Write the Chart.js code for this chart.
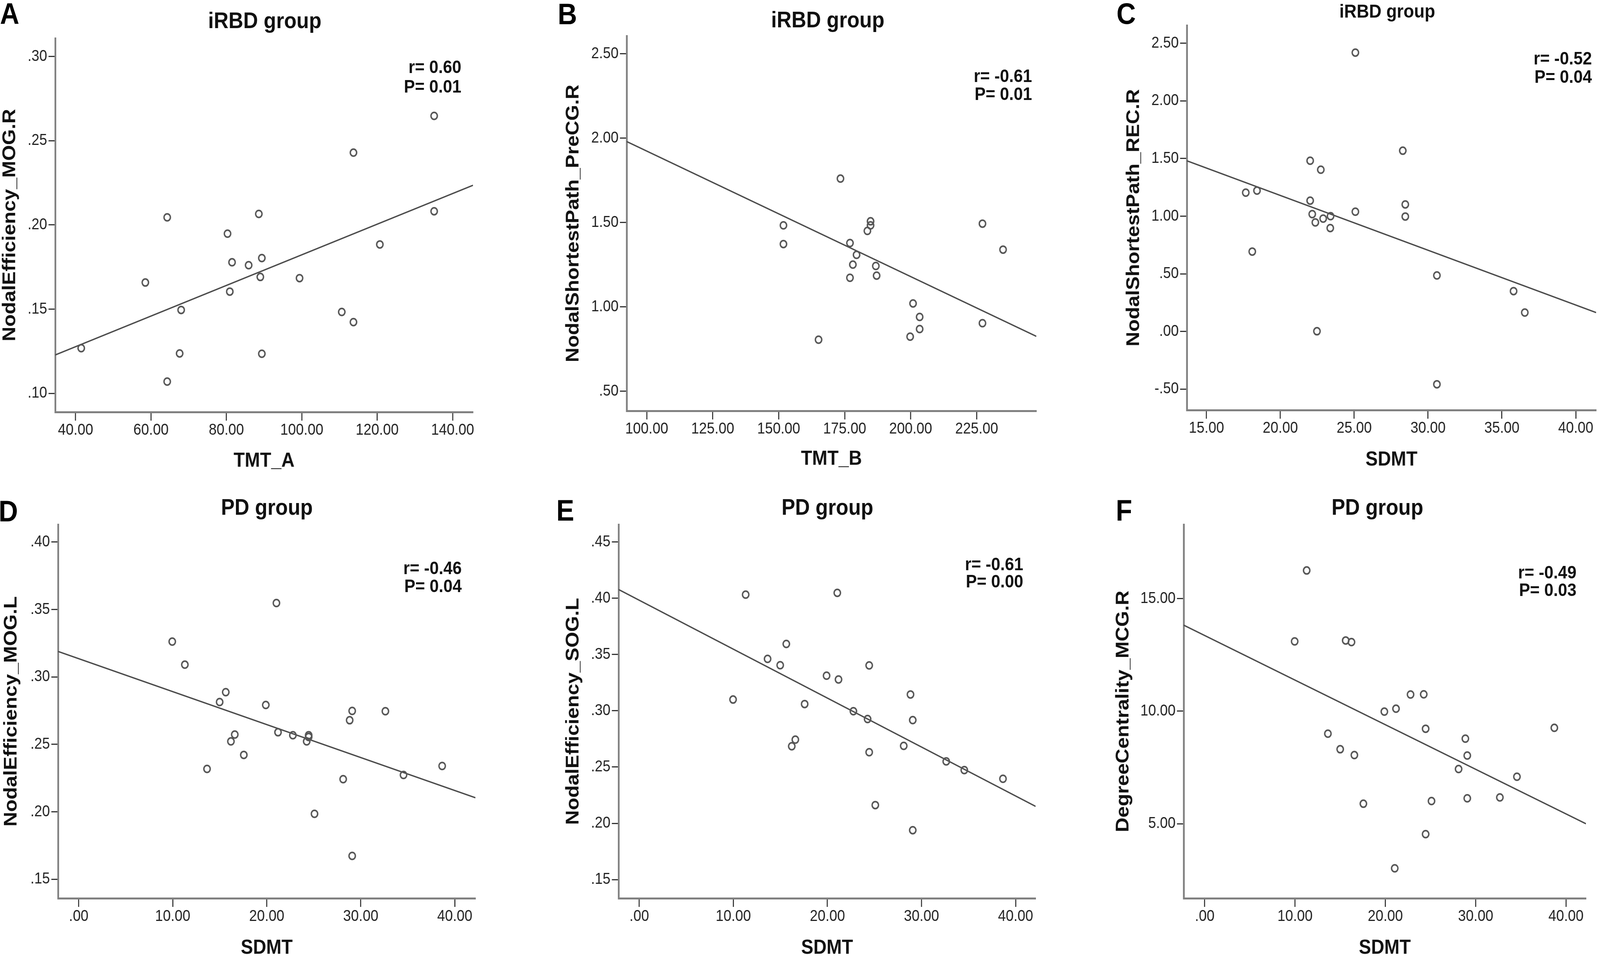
<!DOCTYPE html>
<html lang="en">
<head>
<meta charset="UTF-8">
<title>Nodal metrics vs cognitive scores</title>
<script src="https://cdn.jsdelivr.net/npm/chart.js"></script>
<style>
    html, body {
        margin: 0;
        padding: 0;
        background: #fff;
        overflow: hidden;
        font-family: "Liberation Sans", Arial, sans-serif;
    }
    #stage {
        position: relative;
        overflow: hidden;
        background: #fff;
    }
    .figure {
        position: absolute;
        left: 0;
        top: 0;
        width: 4550px;
        height: 2458px;
        background: #fff;
        transform-origin: 0 0;
    }
    .box { position: absolute; }
    .letter {
        position: absolute;
        font-weight: bold;
        font-size: 76px;
        line-height: 76px;
        color: #000;
    }
    .group {
        position: absolute;
        font-weight: bold;
        white-space: nowrap;
        color: #111;
        transform: translateX(-50%);
    }
    .stat {
        position: absolute;
        font-weight: bold;
        font-size: 47px;
        text-align: right;
        white-space: pre;
        color: #111;
    }
</style>
</head>
<body>
<div id="stage"><div class="figure" id="figure"></div></div>
<script>
    // ---- data ----
    // A: TMT_A vs NodalEfficiency_MOG.R (iRBD)
    const xA = [41.5, 58.5, 64.3, 64.3, 68.0, 67.6, 80.3, 81.5, 80.9, 85.9, 88.6, 89.4, 89.0, 89.4, 99.4, 110.6, 113.7, 113.7, 120.7, 135.1, 135.1];
    const yA = [0.1268, 0.1658, 0.2045, 0.1070, 0.1495, 0.1237, 0.1948, 0.1778, 0.1604, 0.1761, 0.2065, 0.1803, 0.1691, 0.1235, 0.1684, 0.1483, 0.2429, 0.1423, 0.1884, 0.2647, 0.2081];
    const fitA = [[34.6, 0.1228], [145.4, 0.2235]];
    const xTicksA = [40, 60, 80, 100, 120, 140];
    const yTicksA = [0.10, 0.15, 0.20, 0.25, 0.30];
    const xRangeA = [34.6, 145.4];
    const yRangeA = [0.0889, 0.3108];

    // B: TMT_B vs NodalShortestPath_PreCG.R (iRBD)
    const xB = [173.4, 151.8, 151.8, 165.1, 177.0, 179.5, 178.1, 177.0, 184.8, 184.8, 183.6, 186.8, 187.1, 200.9, 203.4, 203.4, 199.8, 227.2, 227.2, 235.0];
    const yB = [1.760, 1.483, 1.372, 0.805, 1.378, 1.308, 1.250, 1.172, 1.507, 1.483, 1.450, 1.242, 1.185, 1.020, 0.940, 0.868, 0.823, 1.493, 0.903, 1.339];
    const fitB = [[92.4, 1.980], [247.6, 0.825]];
    const xTicksB = [100, 125, 150, 175, 200, 225];
    const yTicksB = [0.5, 1.0, 1.5, 2.0, 2.5];
    const xRangeB = [92.4, 247.6];
    const yRangeB = [0.383, 2.606];

    // C: SDMT vs NodalShortestPath_REC.R (iRBD)
    const xC = [25.08, 17.66, 18.42, 18.10, 22.02, 22.74, 22.02, 22.16, 22.37, 22.90, 23.40, 23.38, 25.08, 22.48, 28.29, 28.46, 28.46, 30.60, 30.60, 35.79, 36.55];
    const yC = [2.419, 1.204, 1.222, 0.693, 1.481, 1.403, 1.135, 1.018, 0.946, 0.979, 1.000, 0.897, 1.039, 0.002, 1.568, 1.102, 0.997, 0.486, -0.458, 0.350, 0.164];
    const fitC = [[13.67, 1.481], [41.38, 0.164]];
    const xTicksC = [15, 20, 25, 30, 35, 40];
    const yTicksC = [-0.5, 0, 0.5, 1.0, 1.5, 2.0, 2.5];
    const xRangeC = [13.67, 41.38];
    const yRangeC = [-0.682, 2.655];

    // D: SDMT vs NodalEfficiency_MOG.L (PD)
    const xD = [9.95, 11.29, 21.03, 15.64, 14.99, 19.90, 16.60, 16.19, 17.56, 13.65, 21.20, 22.78, 24.46, 24.46, 24.25, 28.82, 29.09, 32.62, 28.13, 25.08, 29.09, 34.55, 38.66];
    const yD = [0.3262, 0.3091, 0.3548, 0.2887, 0.2814, 0.2792, 0.2573, 0.2522, 0.2422, 0.2318, 0.2590, 0.2568, 0.2568, 0.2555, 0.2522, 0.2679, 0.2748, 0.2746, 0.2242, 0.1985, 0.1673, 0.2273, 0.2340];
    const fitD = [[-2.2, 0.3189], [42.2, 0.2104]];
    const xTicksD = [0, 10, 20, 30, 40];
    const yTicksD = [0.15, 0.20, 0.25, 0.30, 0.35, 0.40];
    const xRangeD = [-2.2, 42.2];
    const yRangeD = [0.1359, 0.413];

    // E: SDMT vs NodalEfficiency_SOG.L (PD)
    const xE = [11.31, 21.05, 9.97, 15.63, 13.64, 14.98, 19.91, 21.18, 24.44, 17.58, 22.76, 24.27, 16.59, 16.21, 24.44, 28.83, 29.07, 28.11, 32.63, 34.55, 38.66, 25.09, 29.07];
    const yE = [0.4032, 0.4048, 0.3100, 0.3594, 0.3461, 0.3405, 0.3312, 0.3278, 0.3403, 0.3060, 0.2996, 0.2927, 0.2744, 0.2685, 0.2632, 0.3145, 0.2917, 0.2688, 0.2550, 0.2473, 0.2396, 0.2162, 0.1939];
    const fitE = [[-2.2, 0.4078], [42.13, 0.2151]];
    const xTicksE = [0, 10, 20, 30, 40];
    const yTicksE = [0.15, 0.20, 0.25, 0.30, 0.35, 0.40, 0.45];
    const xRangeE = [-2.2, 42.13];
    const yRangeE = [0.1334, 0.4655];

    // F: SDMT vs DegreeCentrality_MCG.R (PD)
    const xF = [11.29, 9.96, 15.61, 16.25, 22.79, 24.25, 19.89, 21.18, 13.64, 15.00, 16.57, 24.46, 28.86, 29.07, 28.11, 34.57, 38.71, 17.57, 25.11, 29.07, 32.68, 24.46, 21.04];
    const yF = [16.25, 13.10, 13.14, 13.07, 10.74, 10.75, 9.98, 10.11, 9.00, 8.31, 8.05, 9.22, 8.78, 8.03, 7.43, 7.09, 9.26, 5.89, 6.01, 6.13, 6.17, 4.54, 3.02];
    const fitF = [[-2.33, 13.82], [42.21, 5.00]];
    const xTicksF = [0, 10, 20, 30, 40];
    const yTicksF = [5, 10, 15];
    const xRangeF = [-2.33, 42.21];
    const yRangeF = [1.69, 18.29];

    const letters = ['A', 'B', 'C', 'D', 'E', 'F'];
    const groups = ['iRBD group', 'iRBD group', 'iRBD group', 'PD group', 'PD group', 'PD group'];
    const xTitles = ['TMT_A', 'TMT_B', 'SDMT', 'SDMT', 'SDMT', 'SDMT'];
    const yTitles = ['NodalEfficiency_MOG.R', 'NodalShortestPath_PreCG.R', 'NodalShortestPath_REC.R',
                     'NodalEfficiency_MOG.L', 'NodalEfficiency_SOG.L', 'DegreeCentrality_MCG.R'];
    const rValues = ['0.60', '-0.61', '-0.52', '-0.46', '-0.61', '-0.49'];
    const pValues = ['0.01', '0.01', '0.04', '0.04', '0.00', '0.03'];

    // ---- layout (pixels in the 4550 x 2458 figure) ----
    const panels = [
        { x: xA, y: yA, fit: fitA, xt: xTicksA, yt: yTicksA, xr: xRangeA, yr: yRangeA,
          L: 157, T: 94, R: 1345, B: 1055, yTitleX: 29, xTitleY: 1181,
          titleX: 753, titleBase: 72, titleSize: 58, letterX: 0, letterBase: 61,
          statRight: 1312, statBase: 187, statGap: 50 },
        { x: xB, y: yB, fit: fitB, xt: xTicksB, yt: yTicksB, xr: xRangeB, yr: yRangeB,
          L: 1782, T: 88, R: 2947, B: 1052, yTitleX: 1631, xTitleY: 1176,
          titleX: 2354, titleBase: 70, titleSize: 58, letterX: 1586, letterBase: 62,
          statRight: 2935, statBase: 210, statGap: 46 },
        { x: xC, y: yC, fit: fitC, xt: xTicksC, yt: yTicksC, xr: xRangeC, yr: yRangeC,
          L: 3375, T: 61, R: 4539, B: 1050, yTitleX: 3225, xTitleY: 1178,
          titleX: 3945, titleBase: 45, titleSize: 49, letterX: 3175, letterBase: 61,
          statRight: 4527, statBase: 165, statGap: 47 },
        { x: xD, y: yD, fit: fitD, xt: xTicksD, yt: yTicksD, xr: xRangeD, yr: yRangeD,
          L: 165, T: 1339, R: 1352, B: 2300, yTitleX: 33, xTitleY: 2428,
          titleX: 759, titleBase: 1318, titleSize: 58, letterX: -4, letterBase: 1335,
          statRight: 1313, statBase: 1470, statGap: 46 },
        { x: xE, y: yE, fit: fitE, xt: xTicksE, yt: yTicksE, xr: xRangeE, yr: yRangeE,
          L: 1759, T: 1339, R: 2945, B: 2300, yTitleX: 1631, xTitleY: 2428,
          titleX: 2353, titleBase: 1318, titleSize: 58, letterX: 1582, letterBase: 1333,
          statRight: 2910, statBase: 1460, statGap: 44 },
        { x: xF, y: yF, fit: fitF, xt: xTicksF, yt: yTicksF, xr: xRangeF, yr: yRangeF,
          L: 3366, T: 1339, R: 4510, B: 2300, yTitleX: 3195, xTitleY: 2428,
          titleX: 3917, titleBase: 1318, titleSize: 58, letterX: 3173, letterBase: 1333,
          statRight: 4483, statBase: 1481, statGap: 45 }
    ];

    const FIG_W = 4550, FIG_H = 2458;
    const FONT = '"Liberation Sans", Arial, sans-serif';
    const stage = document.getElementById('stage');
    const figure = document.getElementById('figure');

    // stretch the 4550 x 2458 figure over the real viewport
    const viewW = document.documentElement.clientWidth || window.innerWidth || FIG_W;
    const viewH = document.documentElement.clientHeight || window.innerHeight || FIG_H;
    const sx = viewW / FIG_W;
    const sy = viewH / FIG_H;
    stage.style.width = viewW + 'px';
    stage.style.height = viewH + 'px';
    figure.style.transform = 'scale(' + sx + ',' + sy + ')';

    // SPSS style numbers: .30, -.50, 15.00
    const fmt = (v) => {
        const s = Math.abs(v).toFixed(2).replace(/^0\./, '.');
        return (v < 0 ? '-' : '') + s;
    };

    const addDiv = (cls, text, styles) => {
        const d = document.createElement('div');
        d.className = cls;
        d.textContent = text;
        Object.assign(d.style, styles);
        figure.appendChild(d);
        return d;
    };

    panels.forEach((p, i) => {
        const cl = Math.max(0, p.yTitleX - 30);
        const ct = p.T - 20;
        const cr = p.R + 20;
        const cb = p.xTitleY + 28;

        const box = document.createElement('div');
        box.className = 'box';
        Object.assign(box.style, {
            left: cl + 'px', top: ct + 'px',
            width: (cr - cl) + 'px', height: (cb - ct) + 'px'
        });
        const canvas = document.createElement('canvas');
        box.appendChild(canvas);
        figure.appendChild(box);

        new Chart(canvas, {
            type: 'scatter',
            data: {
                datasets: [
                    {
                        data: p.x.map((v, k) => ({ x: v, y: p.y[k] })),
                        pointRadius: 9,
                        pointHoverRadius: 9,
                        pointBorderWidth: 4,
                        borderColor: '#555',
                        backgroundColor: 'rgba(0,0,0,0)'
                    },
                    {
                        type: 'line',
                        data: p.fit.map(([fx, fy]) => ({ x: fx, y: fy })),
                        borderColor: '#4a4a4a',
                        borderWidth: 3.5,
                        pointRadius: 0,
                        fill: false,
                        tension: 0
                    }
                ]
            },
            options: {
                responsive: true,
                maintainAspectRatio: false,
                animation: false,
                devicePixelRatio: 1,
                layout: { padding: { top: 20, right: 20, left: 0, bottom: 0 } },
                plugins: { legend: { display: false }, tooltip: { enabled: false } },
                scales: {
                    x: {
                        type: 'linear',
                        min: p.xr[0],
                        max: p.xr[1],
                        afterFit: (s) => { s.height = cb - p.B; },
                        afterBuildTicks: (s) => { s.ticks = p.xt.map(v => ({ value: v })); },
                        grid: { drawOnChartArea: false, drawTicks: true, tickLength: 22, tickWidth: 3, tickColor: '#333' },
                        border: { display: true, color: '#808080', width: 5 },
                        ticks: {
                            callback: (v) => fmt(v),
                            padding: 4.5,
                            color: '#222',
                            maxRotation: 0,
                            autoSkip: false,
                            font: { size: 40, family: FONT, lineHeight: 1 }
                        },
                        title: {
                            display: true,
                            text: xTitles[i],
                            color: '#111',
                            padding: { top: 0, bottom: 2 },
                            font: { size: 52, weight: 'bold', family: FONT, lineHeight: 1 }
                        }
                    },
                    y: {
                        type: 'linear',
                        min: p.yr[0],
                        max: p.yr[1],
                        afterFit: (s) => { s.width = p.L - cl; },
                        afterBuildTicks: (s) => { s.ticks = p.yt.map(v => ({ value: v })); },
                        grid: { drawOnChartArea: false, drawTicks: true, tickLength: 19, tickWidth: 3, tickColor: '#333' },
                        border: { display: true, color: '#808080', width: 5 },
                        ticks: {
                            callback: (v) => fmt(v),
                            padding: 4,
                            color: '#222',
                            autoSkip: false,
                            font: { size: 40, family: FONT, lineHeight: 1 }
                        },
                        title: {
                            display: true,
                            text: yTitles[i],
                            color: '#111',
                            padding: { top: p.yTitleX - cl - 26, bottom: 0 },
                            font: { size: 52, weight: 'bold', family: FONT, lineHeight: 1 }
                        }
                    }
                }
            }
        });

        // panel letter
        addDiv('letter', letters[i], { left: p.letterX + 'px', top: (p.letterBase - 64) + 'px' });

        // group title
        addDiv('group', groups[i], {
            left: p.titleX + 'px',
            top: (p.titleBase - 0.8465 * p.titleSize) + 'px',
            fontSize: p.titleSize + 'px',
            lineHeight: p.titleSize + 'px'
        });

        // r / P annotation
        const off = (p.statGap - 1.117 * 47) / 2 + 0.905 * 47;
        addDiv('stat', 'r= ' + rValues[i] + '\nP= ' + pValues[i], {
            right: (FIG_W - p.statRight) + 'px',
            top: (p.statBase - off) + 'px',
            lineHeight: p.statGap + 'px'
        });
    });
</script>
</body>
</html>
